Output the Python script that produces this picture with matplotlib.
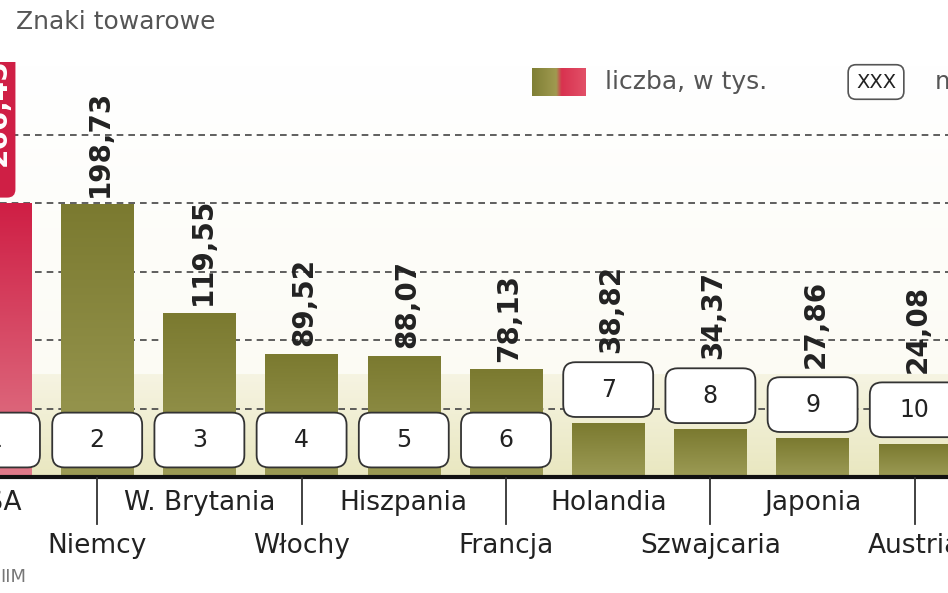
import matplotlib
matplotlib.use("Agg")
import matplotlib.pyplot as plt
import numpy as np
from matplotlib.patches import FancyBboxPatch
from matplotlib.colors import LinearSegmentedColormap

countries = ["USA", "Niemcy", "W. Brytania", "Włochy", "Hiszpania", "Francja",
             "Holandia", "Szwajcaria", "Japonia", "Austria"]
values = [266.45, 198.73, 119.55, 89.52, 88.07, 78.13, 38.82, 34.37, 27.86, 24.08]
labels = ["266,45", "198,73", "119,55", "89,52", "88,07", "78,13", "38,82", "34,37", "27,86", "24,08"]
ranks = [1, 2, 3, 4, 5, 6, 7, 8, 9, 10]
grid_vals = [50, 100, 150, 200, 250]
cap = 200  # USA bar drawn broken at this height

W, H = 948, 593
fig = plt.figure(figsize=(W/100, H/100), dpi=100)
fig.patch.set_facecolor("white")
ax = fig.add_axes([0, (593-477)/593, 1, 415/593])
XL = (0.049, 0.049 + 948/102.2)
ax.axis("off")
ASP = 74.6  # y-units per x-unit for equal pixel size

bg = LinearSegmentedColormap.from_list("bg", ["#fbfaf1", "#ffffff"])
ax.imshow(np.linspace(0, 1, 100).reshape(-1, 1), cmap=bg, aspect="auto",
          extent=[0, 10, 0, 303], origin="lower", zorder=0)
bgb = LinearSegmentedColormap.from_list("bgb", ["#e9e7c0", "#f6f4e2"])
ax.imshow(np.linspace(0, 1, 100).reshape(-1, 1), cmap=bgb, aspect="auto",
          extent=[0, 10, 0, 75], origin="lower", zorder=0.1)

for g in grid_vals:
    ax.axhline(g, color="#444444", lw=1.2, ls=(0, (4, 3)), zorder=1)

olive = LinearSegmentedColormap.from_list("ol", ["#9c9b55", "#7b7a30"])
red = LinearSegmentedColormap.from_list("rd", ["#e07a8a", "#cf1f45"])
bw = 0.71
bxw, bxh = 0.88, 40
for i, v in enumerate(values):
    h = min(v, cap)
    cm = red if i == 0 else olive
    ax.imshow(np.linspace(0, 1, 100).reshape(-1, 1), cmap=cm, aspect="auto",
              extent=[i - bw/2, i + bw/2, 0, h], origin="lower", zorder=2)
    yc = 27 if i < 6 else v + 25
    box = FancyBboxPatch((i - bxw/2, yc - bxh/2), bxw, bxh,
                         boxstyle="round,pad=0,rounding_size=0.12", mutation_aspect=ASP,
                         fc="white", ec="#333333", lw=1.3, zorder=5)
    ax.add_patch(box)
    ax.text(i, yc, str(ranks[i]), ha="center", va="center", fontsize=17, color="#222222", zorder=6)
    if i == 0:
        rb = FancyBboxPatch((i - 0.2, cap + 4), 0.4, 125, boxstyle="round,pad=0,rounding_size=0.08",
                            fc="#cf1f45", ec="none", zorder=3, mutation_aspect=ASP)
        ax.add_patch(rb)
        ax.text(i + 0.03, cap + 66, labels[i], rotation=90, ha="center", va="center",
                color="white", fontsize=20, fontweight="bold", zorder=4)
    else:
        base = v + 6 if i < 6 else yc + bxh/2 + 7
        ax.text(i + 0.03, base, labels[i], rotation=90, ha="center", va="bottom",
                color="#222222", fontsize=20, fontweight="bold", zorder=4)

ax.plot([0, 10], [0, 0], color="#111111", lw=3, zorder=7, clip_on=False, solid_capstyle="butt")
ax.set_xlim(*XL)
ax.set_ylim(0, 303)

for i, c in enumerate(countries):
    yfig = 1 - (503 if i % 2 == 0 else 546)/593
    xf = (i - 0.049) * 102.2 / 948
    fig.text(xf, yfig, c, ha="center", va="center", fontsize=19, color="#222222")
    if i % 2 == 1:
        fig.add_artist(plt.Line2D([xf, xf], [1-478/593, 1-524/593], color="#333333", lw=1.3))

fig.text(215/948, 1-22/593, "Znaki towarowe", ha="right", va="center", fontsize=18, color="#555555")
fig.text(0, 1-577/593, "IIM", ha="left", va="center", fontsize=13, color="#777777")

sw = np.linspace(0, 1, 100).reshape(1, -1)
leg = fig.add_axes([532/948, 1-96/593, 53/948, 28/593])
leg.imshow(sw, cmap=LinearSegmentedColormap.from_list(
    "lg", [(0, "#7f7f35"), (0.45, "#a09a50"), (0.55, "#d8324f"), (1, "#e25068")]), aspect="auto")
leg.axis("off")
fig.text(605/948, 1-82/593, "liczba, w tys.", ha="left", va="center", fontsize=18, color="#555555")
fig.text(876/948, 1-82/593, "XXX", ha="center", va="center", fontsize=14, color="#222222",
         bbox=dict(boxstyle="round,pad=0.4,rounding_size=0.4", fc="white", ec="#555555", lw=1.2))
fig.text(935/948, 1-82/593, "miejsce", ha="left", va="center", fontsize=18, color="#555555")

fig.savefig("out.png", dpi=100)
